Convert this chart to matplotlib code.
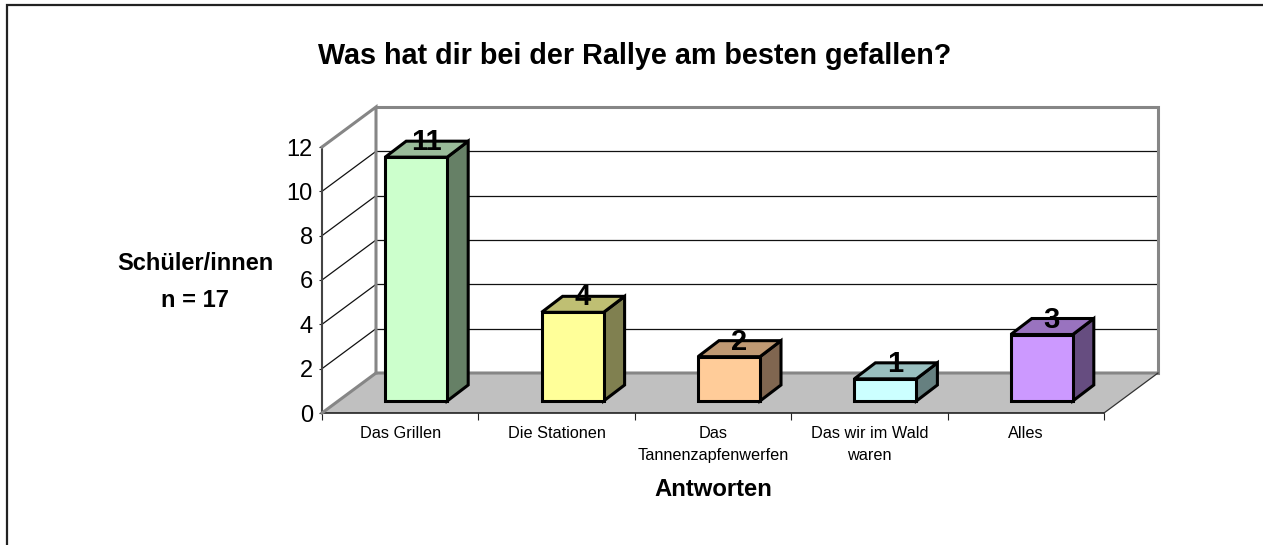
import numpy as np
import matplotlib
matplotlib.use("Agg")
import matplotlib.pyplot as plt
from matplotlib.patches import Polygon, Rectangle

plt.rcParams["font.family"] = ["Liberation Sans", "DejaVu Sans"]

categories = ["Das Grillen", "Die Stationen", "Das\nTannenzapfenwerfen",
              "Das wir im Wald\nwaren", "Alles"]
values = [11, 4, 2, 1, 3]
y_ticks = [0, 2, 4, 6, 8, 10, 12]
front_colors = ["#CCFFCC", "#FFFF99", "#FFCC99", "#CCFFFF", "#CC99FF"]
top_colors = ["#99BB99", "#BFBF73", "#BF9973", "#99BFBF", "#9973BF"]
side_colors = ["#668066", "#808050", "#806650", "#668080", "#664D80"]

W, H = 1263, 545
fig = plt.figure(figsize=(W / 100, H / 100), dpi=100)

# axes box in pixels: front plane 322..1104, value 0 at y=413, 12 at y=147
px_x = 156.4
px_y = 266 / 12
ax = fig.add_axes([322 / W, (H - 413) / H, 836 / W, 307 / H])
ax.set_xlim(0, 836 / px_x)
ax.set_ylim(0, 307 / px_y)
ax.patch.set_visible(False)

# depth of the chart box and of the bars, in data units
dx, dy = 54 / px_x, 40 / px_y
bar_w = 62 / px_x
bar_dx, bar_dy = 21 / px_x, 16 / px_y
off_x, off_y = 0.5 - bar_w / 2 + 16 / px_x, 12 / px_y
n = len(categories)

# floor
ax.add_patch(Polygon([(0, 0), (n, 0), (n + dx, dy), (dx, dy)], fc="#C0C0C0", ec="none", zorder=1))

# gridlines on back wall and side wall
for v in y_ticks[1:]:
    ax.plot([dx, n + dx], [v + dy, v + dy], color="#111111", lw=0.9, zorder=2)
    ax.plot([0, dx], [v, v + dy], color="#111111", lw=0.9, zorder=2)

# wall outlines
wall = "#868686"
ax.plot([0, dx, dx], [12, 12 + dy, dy], color=wall, lw=2.2, zorder=3, solid_joinstyle="miter", clip_on=False)
ax.plot([dx, n + dx, n + dx], [12 + dy, 12 + dy, dy], color=wall, lw=2.2, zorder=3, solid_joinstyle="miter", clip_on=False)
ax.plot([0, dx, n + dx], [0, dy, dy], color=wall, lw=2.2, zorder=3, clip_on=False)
ax.plot([n + dx, n], [dy, 0], color="#333333", lw=0.9, zorder=3, clip_on=False)

# bars
for i, v in enumerate(values):
    x0 = i + off_x
    y0 = off_y
    x1 = x0 + bar_w
    y1 = y0 + v
    ax.add_patch(Polygon([(x1, y0), (x1 + bar_dx, y0 + bar_dy), (x1 + bar_dx, y1 + bar_dy), (x1, y1)],
                         fc=side_colors[i], ec="black", lw=2.2, zorder=4, joinstyle="miter"))
    ax.add_patch(Polygon([(x0, y1), (x1, y1), (x1 + bar_dx, y1 + bar_dy), (x0 + bar_dx, y1 + bar_dy)],
                         fc=top_colors[i], ec="black", lw=2.2, zorder=4, joinstyle="miter"))
    ax.add_patch(Rectangle((x0, y0), bar_w, v, fc=front_colors[i], ec="black", lw=2.2, zorder=5, joinstyle="miter"))
    ax.text(x0 + bar_w / 2 + 10 / px_x, y1 + 15 / px_y, str(v), ha="center", va="center",
            fontsize=21, fontweight="bold", zorder=6, color="black")

# axes
for s in ["top", "right"]:
    ax.spines[s].set_visible(False)
ax.spines["left"].set_bounds(0, 12)
ax.spines["bottom"].set_bounds(0, n)
ax.spines["left"].set_color("#444444")
ax.spines["left"].set_linewidth(1.5)
ax.spines["bottom"].set_color("#111111")
ax.spines["bottom"].set_linewidth(1.1)
ax.set_yticks(y_ticks)
ax.tick_params(axis="y", labelsize=17, length=2.5, pad=4, color="#222222")
ax.set_xticks(range(n + 1))
ax.set_xticklabels([])
ax.set_xticks(np.arange(n) + 0.5, categories, minor=True, fontsize=11.7, linespacing=1.6)
ax.tick_params(axis="x", which="major", length=5, color="#222222")
ax.tick_params(axis="x", which="minor", length=0, pad=9)

# texts
fig.text(634.5 / W, 1 - 56.5 / H, "Was hat dir bei der Rallye am besten gefallen?", ha="center", va="center",
         fontsize=20.7, fontweight="bold")
fig.text(195 / W, 1 - 282 / H, "Schüler/innen\nn = 17", ha="center", va="center", fontsize=17,
         fontweight="bold", linespacing=1.75)
fig.text(713 / W, 1 - 490 / H, "Antworten", ha="center", va="center", fontsize=17.2, fontweight="bold")

# chart frame
fig.add_artist(Rectangle((7 / W, -0.01), 1.2, 1 - 5 / H + 0.01, transform=fig.transFigure,
                         fc="none", ec="#222222", lw=1.6))

fig.savefig("out.png", dpi=100)
